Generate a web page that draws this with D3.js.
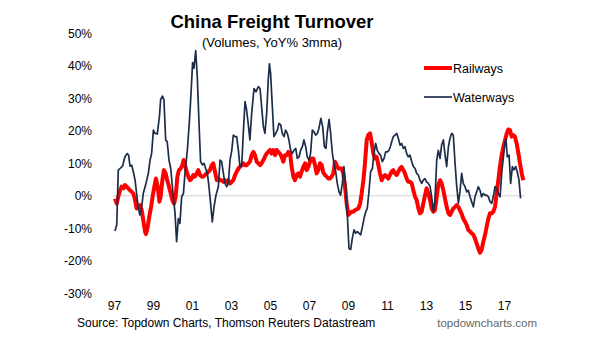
<!DOCTYPE html>
<html>
<head>
<meta charset="utf-8">
<script src="https://cdn.jsdelivr.net/npm/d3@7"></script>
<style>
  body { margin: 0; background: #fff; }
  text { font-family: "Liberation Sans", Arial, sans-serif; }
</style>
</head>
<body>
<div id="vis"></div>
<script>
// [decimal year, YoY %]
const railways = [
  [1997.05, -0.8], [1997.14, -2.4], [1997.22, -0.3], [1997.31, 1.7], [1997.39, 2.8], [1997.48, 2.3],
  [1997.56, 3.3], [1997.65, 2.8], [1997.73, 2.3], [1997.82, 1.7], [1997.91, 1.2], [1997.99, 0.7],
  [1998.08, -1.3], [1998.16, -3.9], [1998.25, -3.4], [1998.33, -2.9], [1998.42, -4.4], [1998.50, -7.5],
  [1998.59, -11.0], [1998.64, -11.8], [1998.73, -9.5], [1998.81, -6.4], [1998.90, -3.4], [1998.98, -0.3],
  [1999.07, 2.8], [1999.15, 5.3], [1999.24, 2.8], [1999.33, -1.8], [1999.39, -0.3], [1999.48, 4.8],
  [1999.56, 7.9], [1999.65, 6.9], [1999.73, 4.8], [1999.82, 2.8], [1999.91, 0.7], [1999.99, -1.3],
  [2000.08, -2.4], [2000.16, -0.3], [2000.25, 5.9], [2000.33, 7.9], [2000.42, 8.4], [2000.50, 9.4],
  [2000.57, 11.0], [2000.64, 9.4], [2000.73, 7.4], [2000.81, 5.9], [2000.90, 4.8], [2000.98, 5.3],
  [2001.07, 6.4], [2001.15, 5.9], [2001.24, 6.9], [2001.32, 7.9], [2001.41, 6.4], [2001.50, 5.9],
  [2001.58, 5.9], [2001.67, 6.4], [2001.75, 6.9], [2001.84, 7.4], [2001.92, 7.9], [2002.01, 9.4],
  [2002.09, 10.0], [2002.18, 7.4], [2002.27, 4.8], [2002.35, 5.3], [2002.44, 4.8], [2002.52, 4.8],
  [2002.61, 4.3], [2002.69, 4.8], [2002.78, 4.3], [2002.86, 4.8], [2002.95, 3.8], [2003.04, 4.3],
  [2003.12, 4.8], [2003.21, 6.4], [2003.29, 7.4], [2003.38, 8.4], [2003.46, 8.9], [2003.55, 9.4],
  [2003.63, 10.0], [2003.72, 9.4], [2003.80, 9.4], [2003.89, 10.0], [2003.97, 10.5], [2004.06, 12.5],
  [2004.15, 13.5], [2004.23, 12.5], [2004.32, 10.5], [2004.40, 10.0], [2004.49, 9.4], [2004.57, 10.0],
  [2004.66, 11.0], [2004.74, 12.0], [2004.83, 13.0], [2004.91, 13.5], [2005.00, 14.1], [2005.09, 13.0],
  [2005.17, 14.1], [2005.26, 12.5], [2005.34, 14.1], [2005.43, 13.5], [2005.51, 13.0], [2005.60, 12.0],
  [2005.68, 10.5], [2005.77, 12.5], [2005.85, 12.5], [2005.94, 13.5], [2006.03, 13.0], [2006.11, 8.9],
  [2006.20, 5.9], [2006.28, 4.8], [2006.37, 6.4], [2006.45, 6.9], [2006.54, 5.9], [2006.62, 7.4],
  [2006.71, 8.9], [2006.80, 10.0], [2006.88, 7.9], [2006.97, 8.9], [2007.05, 10.5], [2007.14, 11.5],
  [2007.22, 11.5], [2007.31, 9.4], [2007.39, 6.9], [2007.48, 7.9], [2007.56, 10.0], [2007.65, 9.5],
  [2007.73, 7.2], [2007.82, 6.4], [2007.91, 5.9], [2007.99, 5.3], [2008.08, 5.3], [2008.16, 5.9],
  [2008.25, 6.9], [2008.33, 10.5], [2008.42, 9.4], [2008.50, 8.4], [2008.59, 8.4], [2008.67, 8.4],
  [2008.76, 6.9], [2008.85, 2.8], [2008.93, -2.4], [2009.02, -5.9], [2009.10, -5.4], [2009.19, -4.9],
  [2009.27, -4.9], [2009.36, -4.4], [2009.44, -4.2], [2009.53, -3.9], [2009.62, -2.4], [2009.70, 0.7],
  [2009.79, 4.8], [2009.87, 10.0], [2009.96, 17.2], [2010.04, 18.7], [2010.13, 19.2], [2010.21, 16.6],
  [2010.30, 13.0], [2010.38, 11.5], [2010.47, 12.0], [2010.56, 9.4], [2010.64, 6.9], [2010.73, 4.8],
  [2010.81, 5.9], [2010.90, 6.4], [2010.98, 5.9], [2011.07, 5.3], [2011.15, 6.4], [2011.24, 7.4],
  [2011.32, 7.9], [2011.41, 6.9], [2011.50, 6.4], [2011.58, 7.4], [2011.67, 8.4], [2011.75, 8.9],
  [2011.84, 7.9], [2011.92, 6.9], [2012.01, 5.3], [2012.09, 4.3], [2012.18, 4.3], [2012.27, 3.8],
  [2012.35, 1.7], [2012.44, -0.3], [2012.52, -1.3], [2012.61, -3.9], [2012.69, -5.4], [2012.78, -4.9],
  [2012.86, -2.4], [2012.95, 0.2], [2013.03, 2.3], [2013.12, 0.7], [2013.21, -1.3], [2013.29, -3.9],
  [2013.38, -4.9], [2013.46, -4.4], [2013.55, -0.3], [2013.63, 3.3], [2013.72, 4.8], [2013.80, 3.8],
  [2013.89, 1.7], [2013.97, -0.8], [2014.06, -3.4], [2014.15, -5.4], [2014.23, -5.9], [2014.32, -4.9],
  [2014.40, -3.9], [2014.49, -3.4], [2014.57, -2.9], [2014.66, -3.4], [2014.74, -4.4], [2014.83, -5.6],
  [2014.91, -7.0], [2015.00, -8.0], [2015.09, -9.0], [2015.17, -10.5], [2015.26, -11.0], [2015.34, -11.5],
  [2015.43, -12.0], [2015.51, -13.1], [2015.60, -14.7], [2015.68, -16.2], [2015.77, -17.5], [2015.85, -16.7],
  [2015.94, -14.1], [2016.03, -12.0], [2016.11, -9.5], [2016.20, -7.0], [2016.28, -5.4], [2016.37, -5.4],
  [2016.45, -4.9], [2016.54, -3.4], [2016.62, 0.7], [2016.71, 4.8], [2016.80, 9.4], [2016.88, 12.5],
  [2016.97, 15.1], [2017.05, 17.1], [2017.14, 19.2], [2017.22, 20.4], [2017.31, 20.2], [2017.39, 18.2],
  [2017.48, 18.7], [2017.56, 18.2], [2017.65, 16.1], [2017.74, 13.0], [2017.82, 10.0], [2017.91, 6.9],
  [2017.99, 4.8]
];

const waterways = [
  [1997.05, -10.8], [1997.14, -9.0], [1997.22, 7.9], [1997.31, 8.4], [1997.44, 9.1], [1997.56, 12.0],
  [1997.68, 13.0], [1997.75, 12.5], [1997.82, 9.1], [1997.91, 9.4], [1997.99, 7.4], [1998.08, 4.8],
  [1998.16, 0.7], [1998.25, -3.9], [1998.33, -5.9], [1998.42, -3.4], [1998.50, 0.7], [1998.64, 3.8],
  [1998.76, 6.9], [1998.85, 11.0], [1998.93, 13.0], [1999.02, 20.2], [1999.10, 19.2], [1999.22, 19.0],
  [1999.33, 24.4], [1999.39, 29.5], [1999.48, 30.7], [1999.56, 29.7], [1999.65, 17.2], [1999.73, 16.6],
  [1999.82, 11.0], [1999.91, 8.4], [2000.01, 1.7], [2000.13, -5.4], [2000.21, -14.1], [2000.30, -7.0],
  [2000.38, -8.5], [2000.47, -0.3], [2000.56, 0.7], [2000.64, 6.9], [2000.76, 14.0], [2000.86, 22.3],
  [2000.95, 31.5], [2001.03, 41.0], [2001.10, 39.2], [2001.19, 44.7], [2001.27, 36.7], [2001.36, 22.3],
  [2001.44, 10.5], [2001.53, 9.5], [2001.62, 10.0], [2001.70, 8.4], [2001.79, 6.9], [2001.87, 2.8],
  [2001.96, -2.8], [2002.04, -8.0], [2002.13, -3.4], [2002.23, 0.2], [2002.35, 2.8], [2002.44, 11.0],
  [2002.52, 10.5], [2002.61, 6.9], [2002.69, 3.8], [2002.78, 2.8], [2002.86, 3.8], [2002.95, 11.0],
  [2003.04, 14.0], [2003.12, 18.7], [2003.21, 18.2], [2003.29, 18.2], [2003.38, 14.0], [2003.46, 8.9],
  [2003.55, 9.5], [2003.63, 19.2], [2003.72, 29.0], [2003.80, 26.4], [2003.89, 21.8], [2003.97, 17.2],
  [2004.06, 25.4], [2004.18, 33.0], [2004.28, 32.0], [2004.40, 33.6], [2004.49, 33.0], [2004.57, 27.4],
  [2004.66, 21.3], [2004.74, 19.2], [2004.83, 25.4], [2004.91, 35.6], [2004.97, 40.6], [2005.03, 37.7],
  [2005.12, 27.4], [2005.20, 18.2], [2005.29, 19.2], [2005.38, 20.2], [2005.46, 22.3], [2005.55, 21.8],
  [2005.63, 19.2], [2005.72, 18.2], [2005.80, 20.2], [2005.89, 19.2], [2005.97, 17.2], [2006.06, 14.0],
  [2006.14, 13.0], [2006.23, 14.0], [2006.32, 14.6], [2006.40, 11.5], [2006.49, 12.0], [2006.57, 14.0],
  [2006.66, 15.1], [2006.74, 17.2], [2006.83, 15.1], [2006.91, 12.0], [2007.00, 11.0], [2007.08, 13.0],
  [2007.17, 20.2], [2007.26, 19.7], [2007.34, 18.7], [2007.43, 19.2], [2007.51, 20.8], [2007.61, 23.8],
  [2007.70, 21.3], [2007.79, 15.1], [2007.87, 14.6], [2007.94, 19.7], [2008.03, 23.5], [2008.11, 19.2],
  [2008.20, 13.0], [2008.28, 10.0], [2008.37, 7.4], [2008.45, 3.8], [2008.54, 1.2], [2008.62, 0.2],
  [2008.71, 3.8], [2008.79, 9.0], [2008.88, 2.8], [2008.97, -6.4], [2009.05, -16.2], [2009.14, -16.5],
  [2009.22, -13.1], [2009.31, -10.5], [2009.39, -11.5], [2009.48, -11.0], [2009.56, -11.5], [2009.65, -12.0],
  [2009.74, -9.5], [2009.82, -7.0], [2009.91, -4.9], [2009.99, -3.9], [2010.08, 1.7], [2010.16, 7.4],
  [2010.25, 8.4], [2010.33, 13.0], [2010.42, 16.1], [2010.50, 14.0], [2010.59, 13.0], [2010.67, 12.5],
  [2010.76, 10.5], [2010.85, 11.5], [2010.93, 13.5], [2011.02, 13.5], [2011.10, 14.0], [2011.17, 15.1],
  [2011.24, 16.6], [2011.32, 18.2], [2011.41, 18.7], [2011.50, 19.2], [2011.58, 17.7], [2011.67, 15.6],
  [2011.75, 16.1], [2011.84, 14.6], [2011.92, 15.1], [2012.01, 13.0], [2012.09, 12.0], [2012.18, 12.5],
  [2012.27, 10.5], [2012.35, 9.0], [2012.44, 8.4], [2012.52, 6.9], [2012.61, 6.4], [2012.69, 4.8],
  [2012.78, 3.8], [2012.86, 4.8], [2012.95, 5.3], [2013.03, 4.3], [2013.12, 3.8], [2013.21, 2.8],
  [2013.29, -0.3], [2013.38, -4.9], [2013.46, -1.3], [2013.55, 11.0], [2013.63, 14.0], [2013.72, 11.5],
  [2013.80, 15.6], [2013.89, 17.2], [2013.97, 13.0], [2014.06, 9.0], [2014.15, 15.1], [2014.23, 17.7],
  [2014.32, 19.2], [2014.40, 18.7], [2014.49, 10.0], [2014.57, 3.3], [2014.66, -2.3], [2014.74, 1.2],
  [2014.83, 6.9], [2014.91, 3.8], [2015.00, 2.8], [2015.09, 1.2], [2015.17, 1.7], [2015.26, -0.3],
  [2015.34, -1.8], [2015.43, -3.4], [2015.51, -0.3], [2015.60, 1.2], [2015.68, 2.8], [2015.77, 1.7],
  [2015.85, -0.3], [2015.94, 0.7], [2016.03, 0.2], [2016.11, 0.2], [2016.20, -0.3], [2016.28, -1.8],
  [2016.37, -2.3], [2016.45, -0.3], [2016.54, 2.8], [2016.62, 2.3], [2016.71, 0.7], [2016.80, -0.3],
  [2016.88, 6.9], [2016.97, 12.0], [2017.05, 16.6], [2017.10, 17.4], [2017.17, 12.0], [2017.26, 12.5],
  [2017.34, 3.8], [2017.43, 9.0], [2017.51, 8.0], [2017.60, 9.0], [2017.68, 7.4], [2017.77, 4.8],
  [2017.85, -0.8]
];

const yTicks = [-30, -20, -10, 0, 10, 20, 30, 40, 50];
const xTicks = [1997, 1999, 2001, 2003, 2005, 2007, 2009, 2011, 2013, 2015, 2017];

const series = [
  { name: 'Railways', values: railways, color: '#ff0000', width: 4 },
  { name: 'Waterways', values: waterways, color: '#1c2d4a', width: 1.7 }
];

const W = 591, H = 339;
const svg = d3.select('#vis').append('svg')
  .attr('width', W)
  .attr('height', H);

const x = d3.scaleLinear().domain([1997, 2018]).range([114, 523.5]);
const y = d3.scaleLinear().domain([-30, 50]).range([293.3, 33.3]);

// title block
svg.append('text')
  .attr('x', 272).attr('y', 28)
  .attr('text-anchor', 'middle')
  .style('font-size', '18.5px').style('font-weight', 'bold')
  .text('China Freight Turnover');
svg.append('text')
  .attr('x', 272).attr('y', 47)
  .attr('text-anchor', 'middle')
  .style('font-size', '13px')
  .text('(Volumes, YoY% 3mma)');

// y axis: labels only, no line or ticks
const yAxis = svg.append('g')
  .attr('transform', 'translate(92,0)')
  .call(d3.axisLeft(y).tickValues(yTicks).tickSize(0).tickPadding(0).tickFormat(d => d + '%'));
yAxis.select('.domain').remove();
yAxis.selectAll('text').style('font-size', '12px').style('font-family', '"Liberation Sans", Arial, sans-serif').attr('fill', '#000');

// x axis labels
const xAxis = svg.append('g')
  .attr('transform', 'translate(0,301)')
  .call(d3.axisBottom(x).tickValues(xTicks).tickSize(0).tickPadding(0)
    .tickFormat(d => String(d).slice(2)));
xAxis.select('.domain').remove();
xAxis.selectAll('text').style('font-size', '12px').style('font-family', '"Liberation Sans", Arial, sans-serif').attr('fill', '#000');

// zero line
svg.append('line')
  .attr('x1', x(1996.95)).attr('x2', x(2018.05))
  .attr('y1', y(0)).attr('y2', y(0))
  .attr('stroke', '#d0d0d0')
  .attr('stroke-width', 1);

const line = d3.line()
  .x(d => x(d[0]))
  .y(d => y(d[1]));

svg.selectAll('.series')
  .data(series)
  .enter()
  .append('path')
  .attr('class', 'series')
  .attr('d', d => line(d.values))
  .attr('fill', 'none')
  .attr('stroke', d => d.color)
  .attr('stroke-width', d => d.width)
  .attr('stroke-linejoin', 'round');

// legend
const legend = svg.append('g').attr('transform', 'translate(424,68)');
legend.selectAll('g')
  .data(series)
  .enter()
  .append('g')
  .attr('transform', (d, i) => `translate(0,${i * 29})`)
  .each(function (d) {
    const g = d3.select(this);
    g.append('line')
      .attr('x1', 0).attr('x2', 28)
      .attr('stroke', d.color)
      .attr('stroke-width', d.width);
    g.append('text')
      .attr('x', 29).attr('y', 4.5)
      .style('font-size', '12.5px')
      .text(d.name);
  });

// footer
svg.append('text')
  .attr('x', 77).attr('y', 327)
  .style('font-size', '12px')
  .text('Source: Topdown Charts, Thomson Reuters Datastream');
svg.append('text')
  .attr('x', 537).attr('y', 327)
  .attr('text-anchor', 'end')
  .attr('fill', '#666')
  .style('font-size', '11.5px')
  .text('topdowncharts.com');
</script>
</body>
</html>
